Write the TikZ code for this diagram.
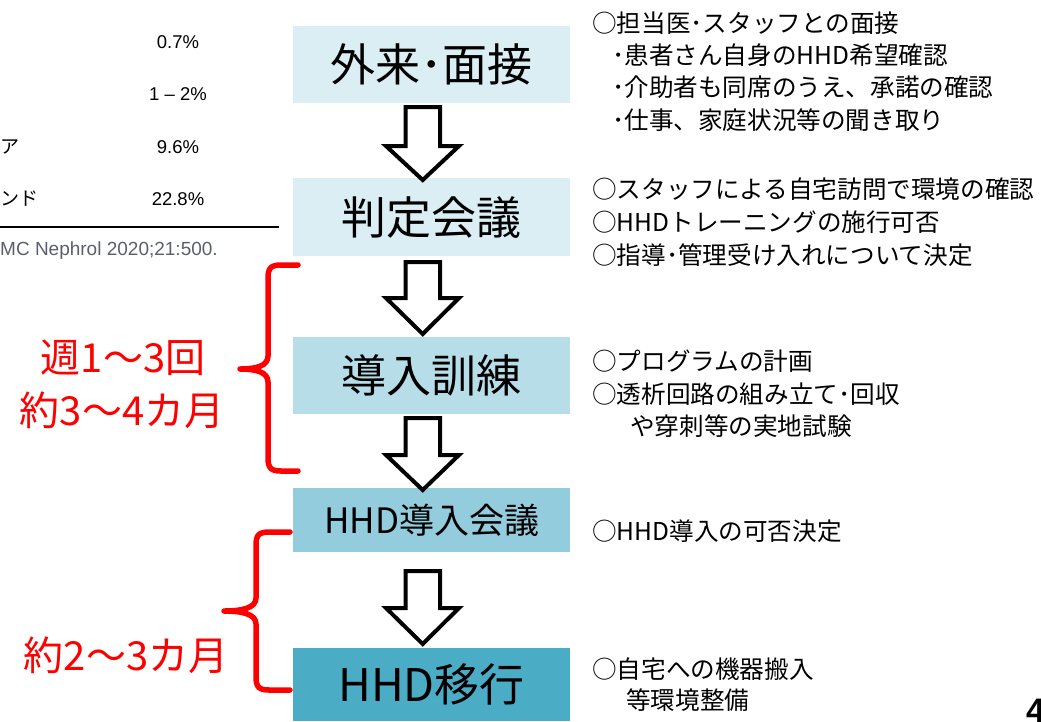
\documentclass[tikz,border=0pt]{standalone}
\usepackage{fontspec}
\setmainfont{Noto Sans CJK JP}
\newfontfamily\arialf{Liberation Sans}
\definecolor{cA}{HTML}{DAEEF3}
\definecolor{cB}{HTML}{B7DEE8}
\definecolor{cC}{HTML}{93CDDD}
\definecolor{cD}{HTML}{4BACC6}
\definecolor{citegray}{HTML}{5A5F6B}
\newcommand\hhdarrow[3]{%
  \draw[blockarrow] (405.5,#1) -- (440,#1) -- (440,#2) -- (459,#2) -- (422.7,#3) -- (386,#2) -- (405.5,#2) -- cycle;}
\begin{document}
\begin{tikzpicture}[x=1pt,y=-1pt,
  stage/.style={fill=#1, minimum width=277pt, inner sep=0pt, anchor=north west, text=black},
  big/.style={font=\fontsize{45}{50}\selectfont},
  mid/.style={font=\fontsize{35}{40}\selectfont},
  note/.style={anchor=base west, inner sep=0pt, font=\fontsize{24.6}{28}\selectfont},
  redlbl/.style={text=red, inner sep=0pt, font=\fontsize{40}{44}\selectfont},
  brace/.style={draw=red, line width=5.5pt, line cap=round, line join=round},
  blockarrow/.style={draw=black, fill=white, line width=4pt, line join=miter},
  tbl/.style={inner sep=0pt, font=\arialf\fontsize{18.5}{22}\selectfont},
  tblj/.style={inner sep=0pt, font=\fontsize{19}{22}\selectfont}]
\useasboundingbox (0,0) rectangle (1041,721);

% stage boxes
\node[stage=cA, minimum height=77pt, big] (b1) at (293,26) {外来･面接};
\node[stage=cA, minimum height=78pt, big] (b2) at (293,178) {判定会議};
\node[stage=cB, minimum height=77pt, big] (b3) at (293,337) {導入訓練};
\node[stage=cC, minimum height=64pt, mid] (b4) at (293,488) {HHD導入会議};
\node[stage=cD, minimum height=73pt, big] (b5) at (293,648) {HHD移行};

% block arrows
\hhdarrow{107}{146}{180}
\hhdarrow{262}{298}{334}
\hhdarrow{418}{455}{490}
\hhdarrow{571}{608}{644}

% notes
\node[note] (n1a) at (592,32) {○担当医･スタッフとの面接};
\node[note] (n1b) at (612,64) {･患者さん自身のHHD希望確認};
\node[note] (n1c) at (612,96.5) {･介助者も同席のうえ、承諾の確認};
\node[note] (n1d) at (612,129) {･仕事、家庭状況等の聞き取り};
\node[note] (n2a) at (592,198.5) {○スタッフによる自宅訪問で環境の確認};
\node[note] (n2b) at (592,231) {○HHDトレーニングの施行可否};
\node[note] (n2c) at (592,264) {○指導･管理受け入れについて決定};
\node[note] (n3a) at (592,370) {○プログラムの計画};
\node[note] (n3b) at (592,403) {○透析回路の組み立て･回収};
\node[note] (n3c) at (630,435) {や穿刺等の実地試験};
\node[note] (n4a) at (592,540) {○HHD導入の可否決定};
\node[note] (n5a) at (592,678) {○自宅への機器搬入};
\node[note] (n5b) at (626,709) {等環境整備};

% red braces
\draw[brace] (298,265) -- (281,265) .. controls (271,265) and (268,268) .. (268,278)
  -- (268,356) .. controls (268,366) and (256,369) .. (240,369)
  .. controls (256,369) and (268,372) .. (268,382)
  -- (268,458) .. controls (268,468) and (271,471) .. (281,471) -- (298,471);
\draw[brace] (290,532) -- (269,532) .. controls (259,532) and (256,535) .. (256,545)
  -- (256,598) .. controls (256,608) and (242,611) .. (224,611)
  .. controls (242,611) and (256,614) .. (256,624)
  -- (256,677) .. controls (256,687) and (259,690) .. (269,690) -- (290,690);

\node[redlbl] (r1) at (123,358) {週1〜3回};
\node[redlbl] (r2) at (122,410) {約3〜4カ月};
\node[redlbl] (r3) at (126,655) {約2〜3カ月};

% partial table on the left
\node[tbl] (t1) at (178,42) {0.7\%};
\node[tbl] (t2) at (178,94) {1 – 2\%};
\node[tblj, anchor=west] (t3l) at (0,147) {ア};
\node[tbl] (t3) at (178,147) {9.6\%};
\node[tblj, anchor=west] (t4l) at (0,199) {ンド};
\node[tbl] (t4) at (178,199) {22.8\%};
\coordinate (rl) at (0,226.5);
\coordinate (rr) at (279,226.5);
\draw[line width=2pt] (rl) -- (rr);
\node[inner sep=0pt, anchor=west, text=citegray, font=\arialf\fontsize{19}{22}\selectfont] (cite) at (0,251) {MC Nephrol 2020;21:500.};

% page number (cut off at the page edge, as in the slide)
\node[inner sep=0pt, anchor=north west, font=\arialf\bfseries\fontsize{34}{36}\selectfont] (pg) at (1026,699) {4};
\end{tikzpicture}
\end{document}
